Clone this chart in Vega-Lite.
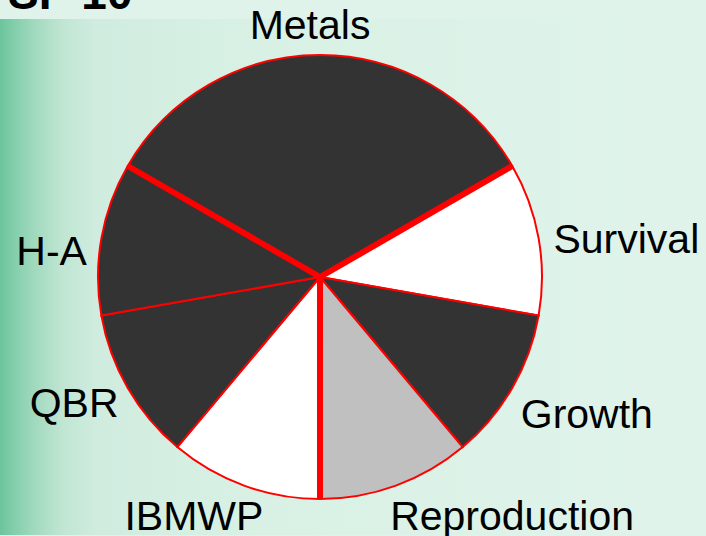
{
  "$schema": "https://vega.github.io/schema/vega-lite/v6.json",
  "autosize": {"type": "none"},
  "width": 640,
  "height": 516,
  "padding": {"top": 19, "left": 0, "right": 66, "bottom": 1},
  "background": "#dff3ea",
  "view": {
    "stroke": null,
    "fill": {
      "gradient": "linear",
      "x1": 0, "y1": 0, "x2": 1, "y2": 0,
      "stops": [
        {"offset": 0, "color": "#6cc49d"},
        {"offset": 0.025, "color": "#86cfad"},
        {"offset": 0.05, "color": "#9ed8bc"},
        {"offset": 0.095, "color": "#bfe5d2"},
        {"offset": 0.15, "color": "#d0ecdf"},
        {"offset": 0.4, "color": "#d9f1e5"},
        {"offset": 1, "color": "#dff3ea"}
      ]
    }
  },
  "config": {
    "text": {"font": "Liberation Sans", "fontSize": 41, "color": "#000000", "baseline": "alphabetic", "align": "center", "radius": 240}
  },
  "title": {
    "text": "SP 10",
    "anchor": "start",
    "frame": "group",
    "font": "Liberation Sans",
    "fontSize": 46,
    "fontWeight": "bold",
    "color": "#000000",
    "baseline": "alphabetic",
    "offset": 0,
    "dx": 8,
    "dy": 49
  },
  "datasets": {
    "slices": [
      {"idx": 1, "cat": "Survival", "value": 1},
      {"idx": 2, "cat": "Growth", "value": 1},
      {"idx": 3, "cat": "Reproduction", "value": 1},
      {"idx": 4, "cat": "IBMWP", "value": 1},
      {"idx": 5, "cat": "QBR", "value": 1},
      {"idx": 6, "cat": "H-A", "value": 1},
      {"idx": 7, "cat": "Metals", "value": 3}
    ],
    "groups": [
      {"boundary": 0},
      {"boundary": 3},
      {"boundary": 6}
    ]
  },
  "layer": [
    {
      "data": {"name": "slices"},
      "mark": {"type": "arc", "outerRadius": 222, "stroke": "#ff0000", "strokeWidth": 2},
      "encoding": {
        "theta": {"field": "value", "type": "quantitative", "stack": true,
          "scale": {"domain": [0, 9], "range": [1.0472, 7.3304]}},
        "order": {"field": "idx", "type": "quantitative"},
        "color": {"field": "cat", "type": "nominal", "legend": null,
          "scale": {
            "domain": ["Metals", "Survival", "Growth", "Reproduction", "IBMWP", "QBR", "H-A"],
            "range": ["#333333", "#ffffff", "#333333", "#c0c0c0", "#ffffff", "#333333", "#333333"]
          }}
      }
    },
    {
      "data": {"name": "groups"},
      "mark": {"type": "arc", "outerRadius": 222, "stroke": "#ff0000", "strokeWidth": 6, "fill": null, "strokeCap": "butt"},
      "encoding": {
        "theta": {"field": "boundary", "type": "quantitative", "stack": null},
        "theta2": {"field": "boundary"}
      }
    },
    {
      "data": {"name": "slices"},
      "mark": {"type": "text", "dx": -10, "dy": 2},
      "encoding": {
        "theta": {"field": "value", "type": "quantitative", "stack": true},
        "order": {"field": "idx", "type": "quantitative"},
        "text": {"condition": {"test": "datum.cat === 'Metals'", "field": "cat"}, "value": ""}
      }
    },
    {
      "data": {"name": "slices"},
      "mark": {"type": "text", "dx": 70, "dy": 18},
      "encoding": {
        "theta": {"field": "value", "type": "quantitative", "stack": true},
        "order": {"field": "idx", "type": "quantitative"},
        "text": {"condition": {"test": "datum.cat === 'Survival'", "field": "cat"}, "value": ""}
      }
    },
    {
      "data": {"name": "slices"},
      "mark": {"type": "text", "dx": 59, "dy": 31},
      "encoding": {
        "theta": {"field": "value", "type": "quantitative", "stack": true},
        "order": {"field": "idx", "type": "quantitative"},
        "text": {"condition": {"test": "datum.cat === 'Growth'", "field": "cat"}, "value": ""}
      }
    },
    {
      "data": {"name": "slices"},
      "mark": {"type": "text", "dx": 110, "dy": 27},
      "encoding": {
        "theta": {"field": "value", "type": "quantitative", "stack": true},
        "order": {"field": "idx", "type": "quantitative"},
        "text": {"condition": {"test": "datum.cat === 'Reproduction'", "field": "cat"}, "value": ""}
      }
    },
    {
      "data": {"name": "slices"},
      "mark": {"type": "text", "dx": -44, "dy": 27},
      "encoding": {
        "theta": {"field": "value", "type": "quantitative", "stack": true},
        "order": {"field": "idx", "type": "quantitative"},
        "text": {"condition": {"test": "datum.cat === 'IBMWP'", "field": "cat"}, "value": ""}
      }
    },
    {
      "data": {"name": "slices"},
      "mark": {"type": "text", "dx": -38, "dy": 20},
      "encoding": {
        "theta": {"field": "value", "type": "quantitative", "stack": true},
        "order": {"field": "idx", "type": "quantitative"},
        "text": {"condition": {"test": "datum.cat === 'QBR'", "field": "cat"}, "value": ""}
      }
    },
    {
      "data": {"name": "slices"},
      "mark": {"type": "text", "dx": -32, "dy": 30},
      "encoding": {
        "theta": {"field": "value", "type": "quantitative", "stack": true},
        "order": {"field": "idx", "type": "quantitative"},
        "text": {"condition": {"test": "datum.cat === 'H-A'", "field": "cat"}, "value": ""}
      }
    }
  ]
}
